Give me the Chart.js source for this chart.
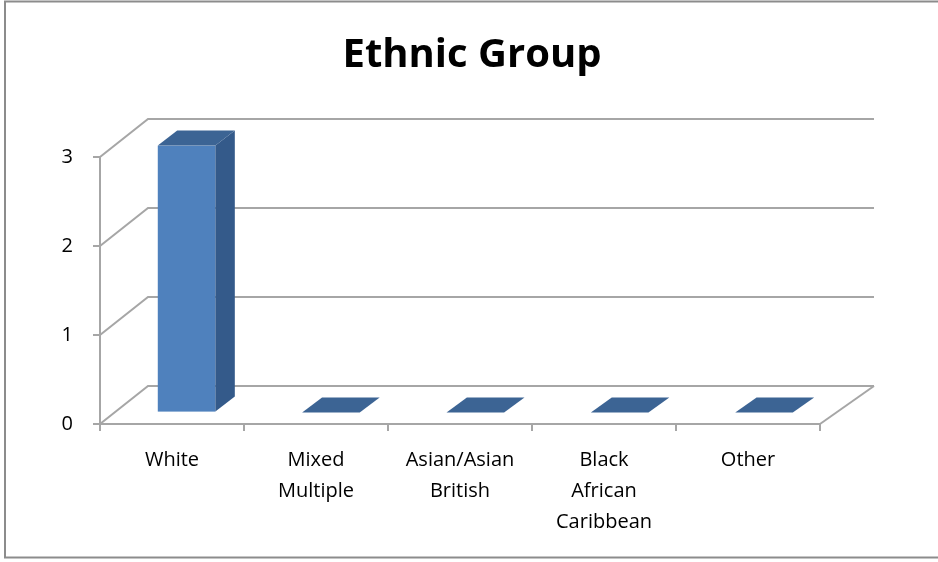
<!DOCTYPE html>
<html>
<head>
<meta charset="utf-8">
<script src="https://cdn.jsdelivr.net/npm/chart.js@4.4.1/dist/chart.umd.min.js"></script>
<style>
    html, body { margin: 0; padding: 0; background: #fff; }
    #wrap { position: relative; width: 938px; height: 562px; }
</style>
</head>
<body>
<div id="wrap"><canvas id="ethnicChart"></canvas></div>
<script>
var chartTitle = 'Ethnic Group';
var categories = ['White', ['Mixed', 'Multiple'], ['Asian/Asian', 'British'], ['Black', 'African', 'Caribbean'], 'Other'];
var counts = [3, 0, 0, 0, 0];
var yTickValues = [0, 1, 2, 3];

var lineColor = '#a6a6a6';
var frontColor = '#4f81bd';
var sideColor = '#345a8a';
var topColor = '#3c6494';

// depth of the 3d box in px (left side / right side differ a little, perspective)
function depthX(chart, x) {
    var area = chart.chartArea;
    return 48 + 6 * (x - area.left) / (area.right - area.left);
}
var depthY = -38;

var threeDPlugin = {
    id: 'threeD',
    beforeDraw: function (chart) {
        var ctx = chart.ctx;
        ctx.save();
        ctx.fillStyle = '#fff';
        ctx.fillRect(0, 0, chart.width, chart.height);
        ctx.strokeStyle = '#8c8c8c';
        ctx.lineWidth = 2;
        ctx.strokeRect(5, 1.5, 935, 556);

        ctx.fillStyle = '#000';
        ctx.font = 'bold 40px "Open Sans"';
        ctx.textAlign = 'center';
        ctx.textBaseline = 'alphabetic';
        ctx.fillText(chartTitle, 472, 67);
        ctx.restore();
    },
    beforeDatasetsDraw: function (chart) {
        var ctx = chart.ctx;
        var area = chart.chartArea;
        var yScale = chart.scales.y;
        var dl = depthX(chart, area.left);
        var dr = depthX(chart, area.right);
        ctx.save();
        ctx.strokeStyle = lineColor;
        ctx.lineWidth = 2;
        yTickValues.forEach(function (v) {
            var y = yScale.getPixelForValue(v);
            ctx.beginPath();
            ctx.moveTo(area.left, y);
            ctx.lineTo(area.left + dl, y + depthY);
            ctx.lineTo(area.right + dr, y + depthY);
            ctx.stroke();
        });
        // right edge of the floor
        var y0 = yScale.getPixelForValue(0);
        ctx.beginPath();
        ctx.moveTo(area.right, y0);
        ctx.lineTo(area.right + dr, y0 + depthY);
        ctx.stroke();
        ctx.restore();
    },
    afterDatasetsDraw: function (chart) {
        var ctx = chart.ctx;
        var meta = chart.getDatasetMeta(0);
        ctx.save();
        meta.data.forEach(function (bar) {
            var props = bar.getProps(['x', 'y', 'base', 'width']);
            var d = depthX(chart, props.x);
            var ox = d * 0.3, oy = depthY * 0.3;
            var bx = d * 0.4, by = depthY * 0.4;
            var x1 = props.x - props.width / 2 + ox;
            var x2 = props.x + props.width / 2 + ox;
            var top = props.y + oy;
            var bottom = props.base + oy;

            if (bottom - top > 0.5) {
                ctx.fillStyle = frontColor;
                ctx.fillRect(x1, top, x2 - x1, bottom - top);
                ctx.fillStyle = sideColor;
                ctx.beginPath();
                ctx.moveTo(x2, top);
                ctx.lineTo(x2 + bx, top + by);
                ctx.lineTo(x2 + bx, bottom + by);
                ctx.lineTo(x2, bottom);
                ctx.closePath();
                ctx.fill();
            }
            ctx.fillStyle = topColor;
            ctx.beginPath();
            ctx.moveTo(x1, top);
            ctx.lineTo(x2, top);
            ctx.lineTo(x2 + bx, top + by);
            ctx.lineTo(x1 + bx, top + by);
            ctx.closePath();
            ctx.fill();
        });
        ctx.restore();
    }
};

new Chart(document.getElementById('ethnicChart'), {
    type: 'bar',
    data: {
        labels: categories,
        datasets: [{
            data: counts,
            backgroundColor: 'rgba(0,0,0,0)',
            borderWidth: 0,
            categoryPercentage: 1,
            barPercentage: 0.4
        }]
    },
    options: {
        responsive: true,
        maintainAspectRatio: false,
        animation: false,
        layout: {
            padding: { left: 0, right: 118, top: 157, bottom: 0 }
        },
        plugins: {
            legend: { display: false },
            tooltip: { enabled: false }
        },
        scales: {
            x: {
                grid: { display: true, drawOnChartArea: false, color: lineColor, lineWidth: 2, tickLength: 7, offset: true },
                border: { display: true, color: lineColor, width: 2 },
                ticks: {
                    color: '#000',
                    font: { family: '"Open Sans"', size: 20, lineHeight: 1.55 },
                    padding: 14,
                    maxRotation: 0,
                    autoSkip: false
                },
                afterFit: function (scale) { scale.height = 562 - 424; }
            },
            y: {
                min: 0,
                max: 3,
                grid: { display: true, drawOnChartArea: false, color: lineColor, lineWidth: 2, tickLength: 7 },
                border: { display: true, color: lineColor, width: 2 },
                ticks: {
                    stepSize: 1,
                    color: '#000',
                    font: { family: '"Open Sans"', size: 20 },
                    padding: 20
                },
                afterFit: function (scale) { scale.width = 100; }
            }
        }
    },
    plugins: [threeDPlugin]
});
</script>
</body>
</html>
